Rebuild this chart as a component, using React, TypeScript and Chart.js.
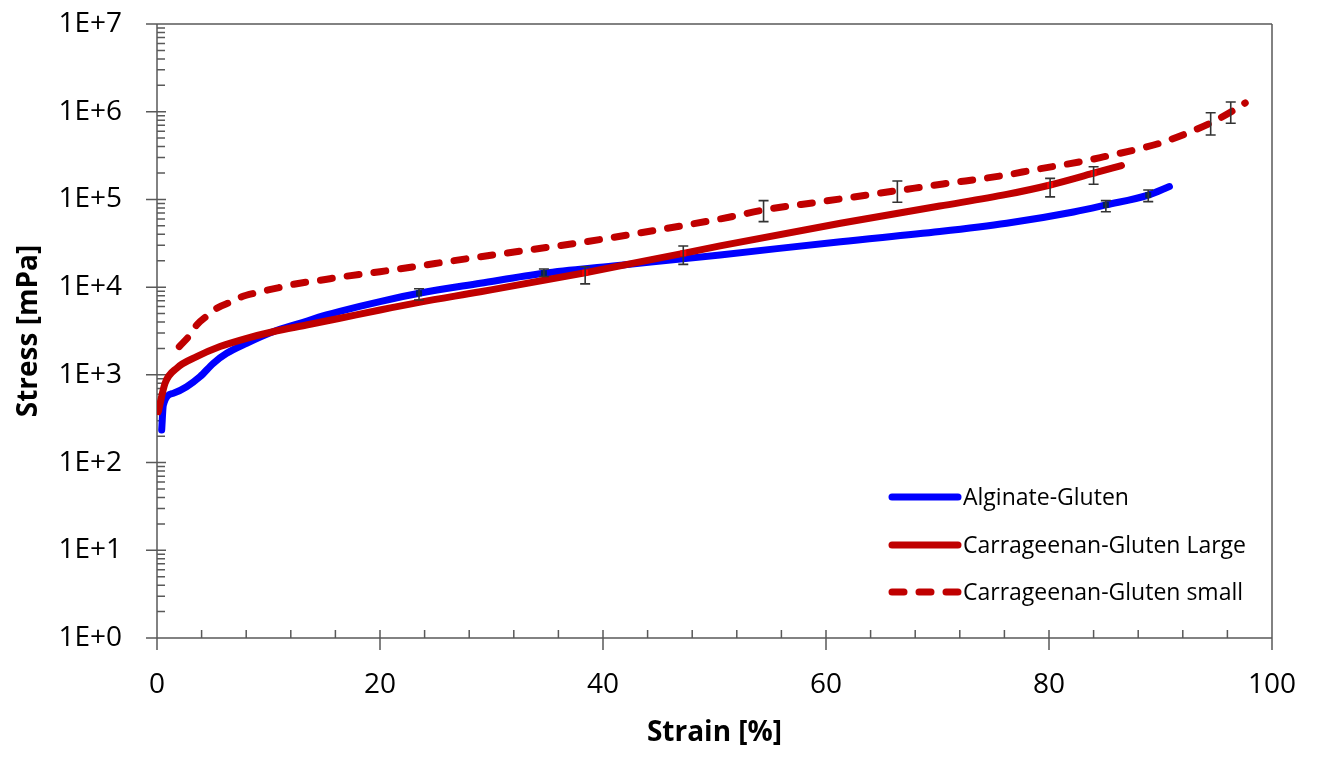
import React, { useEffect, useRef } from "react";
import { Chart, registerables } from "chart.js";

Chart.register(...registerables);

// ---------- data ----------
const alginateX = [0.42, 0.57, 1.47, 2.66, 3.86, 5.05, 6.25, 8.04, 10.4, 12.8, 15.2, 16.4, 20, 23.5, 29, 34.7, 40.9, 50.5, 61.3, 70.2, 76.2, 82.2, 85.1, 88.9, 90.8];
const alginateY = [235, 454, 617, 733, 953, 1355, 1760, 2290, 3100, 3870, 4820, 5300, 6830, 8510, 11070, 14400, 17400, 23300, 33000, 43000, 53500, 72000, 86500, 112000, 140000];

const largeX = [0.12, 0.72, 1.77, 3.56, 5.65, 8.04, 10.4, 13.4, 16.4, 20, 23.5, 29, 38.4, 47.2, 50.5, 61.3, 70.2, 76.2, 80.1, 84.0, 86.5];
const largeY = [380, 800, 1190, 1610, 2100, 2610, 3100, 3700, 4420, 5490, 6700, 8870, 14600, 24300, 29500, 53500, 84000, 114000, 146000, 199000, 243000];

const smallX = [2.0, 2.96, 3.56, 4.6, 5.35, 6.7, 7.6, 8.94, 9.98, 11.3, 12.4, 13.7, 14.8, 16.3, 20, 29, 37.9, 44.5, 51.4, 54.4, 59.5, 66.4, 70.5, 76.2, 78.6, 82.8, 84.6, 87.9, 90, 94.5, 96.3, 97.6];
const smallY = [2100, 2850, 3700, 4820, 5740, 6830, 7780, 8650, 9290, 10120, 10860, 11530, 12070, 12950, 15000, 22200, 32100, 44000, 63000, 75800, 94000, 126000, 150000, 190000, 217000, 269000, 300000, 373000, 440000, 745000, 993000, 1260000];

const alginateErrX = [23.5, 34.7, 85.1, 88.9];
const alginateErrY = [8510, 14400, 86500, 112000];
const alginateErrLow = [7140, 13200, 72500, 94300];
const alginateErrHigh = [9600, 16100, 96800, 128000];

const largeErrX = [38.4, 47.2, 80.1, 84.0];
const largeErrY = [14600, 24300, 146000, 199000];
const largeErrLow = [10900, 18200, 107000, 149000];
const largeErrHigh = [17100, 29500, 174000, 236000];

const smallErrX = [54.4, 66.4, 94.5, 96.3];
const smallErrY = [75800, 126000, 745000, 993000];
const smallErrLow = [55800, 92800, 543000, 738000];
const smallErrHigh = [96800, 162000, 975000, 1290000];

const seriesLabels = ["Alginate-Gluten", "Carrageenan-Gluten Large", "Carrageenan-Gluten small"];

const xTickValues = [0, 20, 40, 60, 80, 100];
const yTickValues = [1, 10, 100, 1000, 10000, 100000, 1000000, 10000000];
const yTickLabels = ["1E+0", "1E+1", "1E+2", "1E+3", "1E+4", "1E+5", "1E+6", "1E+7"];

const xTitle = "Strain [%]";
const yTitle = "Stress [mPa]";

// ---------- style ----------
const W = 1317;
const H = 757;
const FONT = "'Open Sans', 'DejaVu Sans', sans-serif";
const BLUE = "#0000FF";
const RED = "#C00000";
const AXIS = "#595959";

const zip = (xs: number[], ys: number[]) => xs.map((x, i) => ({ x, y: ys[i] }));

const errorSets = [
  { x: alginateErrX, y: alginateErrY, lo: alginateErrLow, hi: alginateErrHigh, marker: "#002060" },
  { x: largeErrX, y: largeErrY, lo: largeErrLow, hi: largeErrHigh, marker: "#FF0000" },
  { x: smallErrX, y: smallErrY, lo: smallErrLow, hi: smallErrHigh, marker: null as string | null },
];

const zeroPad = (s: any) => {
  s.paddingTop = 0;
  s.paddingBottom = 0;
  s.paddingLeft = 0;
  s.paddingRight = 0;
};

const axesPlugin = {
  id: "axesFrame",
  beforeDatasetsDraw(chart: any) {
    const { ctx, chartArea, scales } = chart;
    const { left, right, top, bottom } = chartArea;
    const xs = scales.x;
    const ys = scales.y;
    ctx.save();
    ctx.strokeStyle = AXIS;
    ctx.lineWidth = 1.5;
    ctx.beginPath();
    ctx.moveTo(left, top);
    ctx.lineTo(right, top);
    ctx.moveTo(right, top);
    ctx.lineTo(right, bottom);
    ctx.moveTo(left, top);
    ctx.lineTo(left, bottom);
    ctx.moveTo(left, bottom);
    ctx.lineTo(right, bottom);
    for (const v of yTickValues) {
      const p = ys.getPixelForValue(v);
      ctx.moveTo(left - 11, p);
      ctx.lineTo(left + 9, p);
    }
    for (let d = 0; d < yTickValues.length - 1; d++) {
      for (let k = 2; k <= 9; k++) {
        const p = ys.getPixelForValue(yTickValues[d] * k);
        ctx.moveTo(left, p);
        ctx.lineTo(left + 8, p);
      }
    }
    for (const v of xTickValues) {
      const p = xs.getPixelForValue(v);
      ctx.moveTo(p, bottom - 8);
      ctx.lineTo(p, bottom + 12);
    }
    for (let i = 0; i < xTickValues.length - 1; i++) {
      const a = xTickValues[i];
      const b = xTickValues[i + 1];
      for (let k = 1; k < 5; k++) {
        const p = xs.getPixelForValue(a + ((b - a) * k) / 5);
        ctx.moveTo(p, bottom - 8);
        ctx.lineTo(p, bottom);
      }
    }
    ctx.stroke();
    ctx.restore();
  },
};

const errorBarPlugin = {
  id: "errorBars",
  afterDatasetsDraw(chart: any) {
    const { ctx, scales } = chart;
    const xs = scales.x;
    const ys = scales.y;
    ctx.save();
    for (const s of errorSets) {
      for (let i = 0; i < s.x.length; i++) {
        const px = xs.getPixelForValue(s.x[i]);
        const pLo = ys.getPixelForValue(s.lo[i]);
        const pHi = ys.getPixelForValue(s.hi[i]);
        const pc = ys.getPixelForValue(s.y[i]);
        if (s.marker) {
          ctx.fillStyle = s.marker;
          ctx.fillRect(px - 3, pc - 3, 6, 6);
        }
        ctx.strokeStyle = "#333333";
        ctx.lineWidth = 1.6;
        ctx.beginPath();
        ctx.moveTo(px, pLo);
        ctx.lineTo(px, pHi);
        ctx.moveTo(px - 5, pLo);
        ctx.lineTo(px + 5, pLo);
        ctx.moveTo(px - 5, pHi);
        ctx.lineTo(px + 5, pHi);
        ctx.stroke();
      }
    }
    ctx.restore();
  },
};

const legendPlugin = {
  id: "customLegend",
  afterDraw(chart: any) {
    const { ctx } = chart;
    const x0 = 892;
    const x1 = 958;
    const rows = [497, 545, 592];
    ctx.save();
    chart.data.datasets.forEach((ds: any, i: number) => {
      const y = rows[i];
      ctx.strokeStyle = ds.borderColor;
      ctx.lineWidth = ds.borderWidth;
      ctx.lineCap = "round";
      ctx.setLineDash(ds.borderDash || []);
      ctx.beginPath();
      ctx.moveTo(x0, y);
      ctx.lineTo(x1, y);
      ctx.stroke();
      ctx.setLineDash([]);
      ctx.fillStyle = "#000";
      ctx.font = `23px ${FONT}`;
      ctx.textAlign = "left";
      ctx.textBaseline = "middle";
      ctx.fillText(ds.label, 963, y + 1);
    });
    ctx.restore();
  },
};

export default function App() {
  const ref = useRef<HTMLCanvasElement | null>(null);

  useEffect(() => {
    document.body.style.margin = "0";
    const canvas = ref.current;
    if (!canvas) return;
    const chart = new Chart(canvas, {
      type: "line",
      data: {
        datasets: [
          {
            label: seriesLabels[0],
            data: zip(alginateX, alginateY),
            borderColor: BLUE,
            backgroundColor: BLUE,
            borderWidth: 7,
            pointRadius: 0,
            cubicInterpolationMode: "monotone",
            borderCapStyle: "round",
            borderJoinStyle: "round",
            order: 2,
          },
          {
            label: seriesLabels[1],
            data: zip(largeX, largeY),
            borderColor: RED,
            backgroundColor: RED,
            borderWidth: 7,
            pointRadius: 0,
            cubicInterpolationMode: "monotone",
            borderCapStyle: "round",
            borderJoinStyle: "round",
            order: 1,
          },
          {
            label: seriesLabels[2],
            data: zip(smallX, smallY),
            borderColor: RED,
            backgroundColor: RED,
            borderWidth: 7,
            borderDash: [12, 15],
            pointRadius: 0,
            cubicInterpolationMode: "monotone",
            borderCapStyle: "round",
            borderJoinStyle: "round",
            order: 0,
          },
        ] as any,
      },
      options: {
        responsive: false,
        animation: false,
        devicePixelRatio: 1,
        layout: { padding: { top: 24, right: 45, left: 0, bottom: 0 } },
        plugins: {
          legend: { display: false },
          tooltip: { enabled: false },
        },
        scales: {
          x: {
            type: "linear",
            min: 0,
            max: 100,
            afterBuildTicks: (s: any) => {
              s.ticks = xTickValues.map((v) => ({ value: v }));
            },
            afterFit: (s: any) => {
              s.height = 119;
              zeroPad(s);
            },
            ticks: {
              autoSkip: false,
              padding: 30,
              color: "#000",
              font: { family: FONT, size: 28 },
              callback: (v: any) => String(v),
            },
            grid: { display: false, drawTicks: false },
            border: { display: false },
            title: {
              display: true,
              text: xTitle,
              color: "#000",
              font: { family: FONT, size: 28, weight: "bold" },
              padding: { top: 0, bottom: 7 },
            },
          },
          y: {
            type: "logarithmic",
            min: 1,
            max: 10000000,
            afterBuildTicks: (s: any) => {
              s.ticks = yTickValues.map((v) => ({ value: v }));
            },
            afterFit: (s: any) => {
              s.width = 157;
              zeroPad(s);
            },
            ticks: {
              autoSkip: false,
              padding: 35,
              color: "#000",
              font: { family: FONT, size: 28 },
              callback: (v: any) => {
                const idx = yTickValues.findIndex((t) => Math.abs(Math.log10(t) - Math.log10(Number(v))) < 1e-6);
                return idx >= 0 ? yTickLabels[idx] : "";
              },
            },
            grid: { display: false, drawTicks: false },
            border: { display: false },
            title: {
              display: true,
              text: yTitle,
              color: "#000",
              font: { family: FONT, size: 28, weight: "bold" },
              padding: { top: 12, bottom: 0 },
            },
          },
        },
      } as any,
      plugins: [axesPlugin, errorBarPlugin, legendPlugin],
    });
    return () => chart.destroy();
  }, []);

  return (
    <div style={{ width: W, height: H, background: "#fff" }}>
      <canvas ref={ref} width={W} height={H} style={{ display: "block", width: W, height: H }} />
    </div>
  );
}
